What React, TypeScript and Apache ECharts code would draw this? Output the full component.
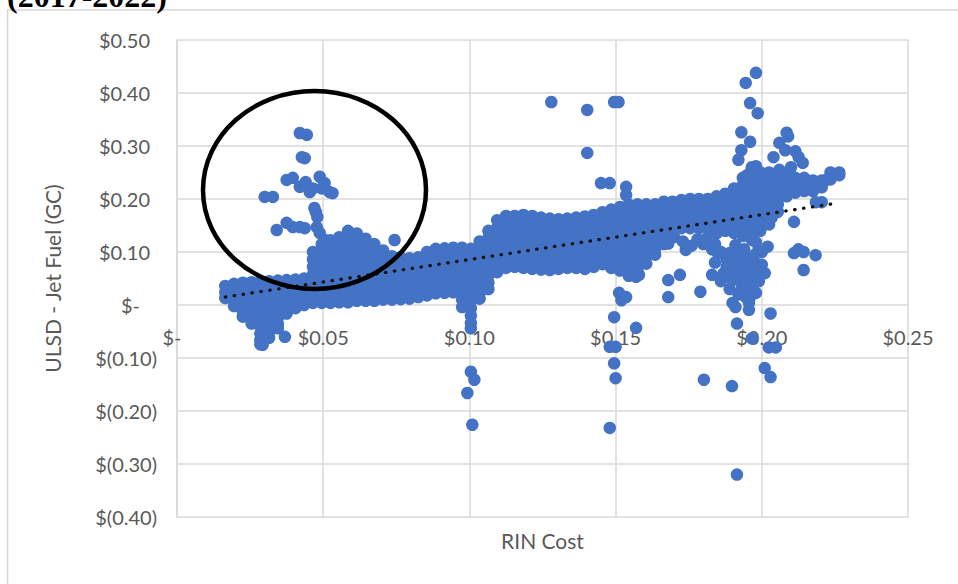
import React, { useEffect, useRef } from 'react';
import * as echarts from 'echarts';

// Main band of observations, read column by column: [RIN cost, [spread values]]
const bandColumns: [number, number[]][] = [
  [0.0165, [0.036, 0.024, 0.013]],
  [0.0195, [0.040, 0.026, 0.012, -0.002]],
  [0.0225, [0.042, 0.028, 0.014, 0.000, -0.012, -0.022]],
  [0.0255, [0.043, 0.029, 0.015, 0.001, -0.012, -0.024, -0.035]],
  [0.0285, [0.044, 0.030, 0.016, 0.002, -0.012, -0.026, -0.040, -0.054, -0.066, -0.074]],
  [0.0315, [0.045, 0.031, 0.017, 0.003, -0.011, -0.025, -0.039, -0.051, -0.062]],
  [0.0345, [0.046, 0.032, 0.018, 0.004, -0.010, -0.024, -0.036, -0.044]],
  [0.0375, [0.047, 0.033, 0.019, 0.005, -0.008, -0.016]],
  [0.0405, [0.048, 0.034, 0.020, 0.006, -0.006]],
  [0.0435, [0.050, 0.036, 0.022, 0.008, 0.000]],
  [0.0465, [0.100, 0.086, 0.072, 0.058, 0.044, 0.030, 0.016, 0.004]],
  [0.0495, [0.115, 0.101, 0.087, 0.073, 0.059, 0.045, 0.031, 0.017, 0.004]],
  [0.0525, [0.122, 0.108, 0.094, 0.080, 0.066, 0.052, 0.038, 0.024, 0.010, 0.004]],
  [0.0555, [0.128, 0.114, 0.100, 0.086, 0.072, 0.058, 0.044, 0.030, 0.016, 0.005]],
  [0.0585, [0.140, 0.126, 0.112, 0.098, 0.084, 0.070, 0.056, 0.042, 0.028, 0.014, 0.005]],
  [0.0615, [0.135, 0.121, 0.107, 0.093, 0.079, 0.065, 0.051, 0.037, 0.023, 0.008]],
  [0.0645, [0.125, 0.111, 0.097, 0.083, 0.069, 0.055, 0.041, 0.027, 0.013, 0.008]],
  [0.0675, [0.115, 0.101, 0.087, 0.073, 0.059, 0.045, 0.031, 0.017, 0.008]],
  [0.0705, [0.103, 0.089, 0.075, 0.061, 0.047, 0.033, 0.019, 0.010]],
  [0.0735, [0.092, 0.078, 0.064, 0.050, 0.036, 0.022, 0.010]],
  [0.0765, [0.090, 0.076, 0.062, 0.048, 0.034, 0.020, 0.011]],
  [0.0795, [0.088, 0.074, 0.060, 0.046, 0.032, 0.018, 0.012]],
  [0.0825, [0.090, 0.076, 0.062, 0.048, 0.034, 0.020, 0.015]],
  [0.0855, [0.100, 0.086, 0.072, 0.058, 0.044, 0.030, 0.018]],
  [0.0885, [0.106, 0.092, 0.078, 0.064, 0.050, 0.036, 0.022]],
  [0.0915, [0.107, 0.093, 0.079, 0.065, 0.051, 0.037, 0.023]],
  [0.0945, [0.108, 0.094, 0.080, 0.066, 0.052, 0.038, 0.024]],
  [0.0975, [0.108, 0.094, 0.080, 0.066, 0.052, 0.038, 0.024, 0.010, -0.004]],
  [0.1005, [0.106, 0.092, 0.078, 0.064, 0.050, 0.036, 0.022, 0.008, -0.006, -0.020, -0.034, -0.044]],
  [0.1035, [0.120, 0.106, 0.092, 0.078, 0.064, 0.050, 0.036, 0.022, 0.012]],
  [0.1065, [0.140, 0.126, 0.112, 0.098, 0.084, 0.070, 0.056, 0.042, 0.030]],
  [0.1095, [0.160, 0.146, 0.132, 0.118, 0.104, 0.090, 0.076, 0.062]],
  [0.1125, [0.168, 0.154, 0.140, 0.126, 0.112, 0.098, 0.084, 0.070]],
  [0.1155, [0.168, 0.154, 0.140, 0.126, 0.112, 0.098, 0.084, 0.072]],
  [0.1185, [0.170, 0.156, 0.142, 0.128, 0.114, 0.100, 0.086, 0.070]],
  [0.1215, [0.168, 0.154, 0.140, 0.126, 0.112, 0.098, 0.084, 0.068]],
  [0.1245, [0.165, 0.151, 0.137, 0.123, 0.109, 0.095, 0.081, 0.067]],
  [0.1275, [0.163, 0.149, 0.135, 0.121, 0.107, 0.093, 0.079, 0.066]],
  [0.1305, [0.162, 0.148, 0.134, 0.120, 0.106, 0.092, 0.078, 0.068]],
  [0.1335, [0.163, 0.149, 0.135, 0.121, 0.107, 0.093, 0.079, 0.070]],
  [0.1365, [0.165, 0.151, 0.137, 0.123, 0.109, 0.095, 0.081, 0.070]],
  [0.1395, [0.167, 0.153, 0.139, 0.125, 0.111, 0.097, 0.083, 0.068]],
  [0.1425, [0.170, 0.156, 0.142, 0.128, 0.114, 0.100, 0.086, 0.072]],
  [0.1455, [0.175, 0.161, 0.147, 0.133, 0.119, 0.105, 0.091, 0.077]],
  [0.1485, [0.180, 0.166, 0.152, 0.138, 0.124, 0.110, 0.096, 0.082, 0.070]],
  [0.1515, [0.185, 0.171, 0.157, 0.143, 0.129, 0.115, 0.101, 0.087, 0.073, 0.065]],
  [0.1545, [0.190, 0.176, 0.162, 0.148, 0.134, 0.120, 0.106, 0.092, 0.078, 0.064, 0.055]],
  [0.1575, [0.190, 0.176, 0.162, 0.148, 0.134, 0.120, 0.106, 0.092, 0.078, 0.064]],
  [0.1605, [0.190, 0.176, 0.162, 0.148, 0.134, 0.120, 0.106, 0.092, 0.078]],
  [0.1635, [0.190, 0.176, 0.162, 0.148, 0.134, 0.120, 0.106, 0.095]],
  [0.1665, [0.195, 0.181, 0.167, 0.153, 0.139, 0.125, 0.115]],
  [0.1695, [0.195, 0.181, 0.167, 0.153, 0.140]],
  [0.1725, [0.198, 0.184, 0.170, 0.156, 0.145]],
  [0.1755, [0.200, 0.186, 0.172, 0.158, 0.145]],
  [0.1785, [0.200, 0.186, 0.172, 0.158, 0.145]],
  [0.1815, [0.200, 0.186, 0.172, 0.158, 0.144]],
  [0.1845, [0.205, 0.191, 0.177, 0.163, 0.149, 0.135]],
  [0.1875, [0.210, 0.196, 0.182, 0.168, 0.154, 0.140]],
  [0.1905, [0.220, 0.206, 0.192, 0.178, 0.164, 0.150, 0.136]],
  [0.1935, [0.240, 0.226, 0.212, 0.198, 0.184, 0.170, 0.156, 0.142, 0.130]],
  [0.1965, [0.255, 0.241, 0.227, 0.213, 0.199, 0.185, 0.171, 0.157, 0.143, 0.130]],
  [0.1995, [0.250, 0.236, 0.222, 0.208, 0.194, 0.180, 0.166, 0.152, 0.140]],
  [0.2025, [0.250, 0.236, 0.222, 0.208, 0.194, 0.180, 0.166, 0.152]],
  [0.2055, [0.245, 0.231, 0.217, 0.203, 0.190, 0.176]],
  [0.2085, [0.245, 0.231, 0.217, 0.205]],
  [0.2115, [0.240, 0.226, 0.212]],
  [0.2145, [0.240, 0.227, 0.215]],
  [0.2175, [0.235, 0.225, 0.215]],
  [0.2205, [0.235, 0.222]],
  [0.2235, [0.250, 0.237]],
  [0.2265, [0.250, 0.245]],
];

// Points inside the circled area (spikes at low RIN cost)
const circledPoints: [number, number][] = [
  [0.042, 0.3245], [0.0444, 0.321], [0.0427, 0.279], [0.0437, 0.277],
  [0.030, 0.204], [0.0328, 0.204], [0.0375, 0.236], [0.0396, 0.240],
  [0.042, 0.223], [0.044, 0.232], [0.0454, 0.213], [0.0465, 0.220],
  [0.0488, 0.242], [0.0495, 0.220], [0.0505, 0.230], [0.0522, 0.213], [0.0532, 0.211],
  [0.047, 0.183], [0.0475, 0.175], [0.048, 0.166], [0.0478, 0.147], [0.0488, 0.136],
  [0.0505, 0.123], [0.0515, 0.109],
  [0.0341, 0.1415], [0.0375, 0.155], [0.0396, 0.147], [0.042, 0.147], [0.0437, 0.145],
  [0.0744, 0.1226],
];

// Low RIN cost outliers below the band
const lowTailPoints: [number, number][] = [
  [0.0369, -0.060], [0.0293, -0.075],
  [0.1005, -0.126], [0.1017, -0.141], [0.0993, -0.166], [0.101, -0.226],
];

// Outliers around $0.13 - $0.18
const midOutliers: [number, number][] = [
  [0.128, 0.383], [0.1403, 0.368], [0.1495, 0.383], [0.151, 0.383], [0.1403, 0.287],
  [0.145, 0.230], [0.148, 0.230], [0.1536, 0.223], [0.1536, 0.2075],
  [0.1512, 0.023], [0.1536, 0.015], [0.152, 0.009], [0.157, 0.053], [0.158, 0.057],
  [0.1495, -0.023], [0.157, -0.043], [0.148, -0.079], [0.150, -0.079],
  [0.1495, -0.110], [0.150, -0.138], [0.148, -0.232],
  [0.168, 0.047], [0.172, 0.057], [0.168, 0.015], [0.179, 0.025], [0.183, 0.057],
];

// Clusters just below the band around $0.17 - $0.20
const clusterPoints: [number, number][] = [
  [0.170, 0.128], [0.173, 0.120], [0.176, 0.112], [0.174, 0.104], [0.178, 0.124], [0.168, 0.116],
  [0.180, 0.115], [0.183, 0.105], [0.185, 0.098], [0.181, 0.125],
  [0.184, 0.115], [0.186, 0.100], [0.188, 0.086], [0.190, 0.074], [0.187, 0.060], [0.190, 0.047],
  [0.193, 0.042], [0.196, 0.034], [0.198, 0.023], [0.1945, 0.015], [0.190, 0.004], [0.1956, 0.004],
  [0.199, 0.072], [0.200, 0.076], [0.1966, 0.123], [0.198, 0.118], [0.192, 0.100], [0.195, 0.090],
  [0.197, 0.060], [0.193, 0.065], [0.189, 0.030], [0.192, 0.020], [0.196, 0.050], [0.199, 0.045],
  [0.200, 0.100], [0.202, 0.110], [0.186, 0.045], [0.184, 0.080], [0.191, 0.113], [0.194, 0.105],
  [0.189, 0.098], [0.197, 0.085], [0.195, 0.075], [0.192, 0.085], [0.188, 0.072], [0.194, 0.055],
  [0.191, 0.060], [0.201, 0.060], [0.198, 0.097], [0.193, 0.028], [0.196, 0.015],
  [0.191, -0.004], [0.1956, -0.009], [0.203, -0.016], [0.1915, -0.035], [0.1966, -0.063],
  [0.2024, -0.080], [0.2048, -0.080], [0.201, -0.119], [0.203, -0.136], [0.1802, -0.141],
  [0.1898, -0.153], [0.1915, -0.320],
];

// High RIN cost spikes and the right-hand tail
const highPoints: [number, number][] = [
  [0.198, 0.438], [0.1945, 0.419], [0.196, 0.381], [0.1986, 0.362], [0.193, 0.326],
  [0.196, 0.308], [0.193, 0.292], [0.192, 0.274], [0.1966, 0.260], [0.198, 0.262],
  [0.195, 0.245], [0.199, 0.240],
  [0.2085, 0.325], [0.209, 0.318], [0.206, 0.306], [0.208, 0.292], [0.204, 0.279],
  [0.2126, 0.279], [0.210, 0.260], [0.206, 0.255], [0.2095, 0.250], [0.214, 0.268], [0.2115, 0.290],
  [0.211, 0.157], [0.2034, 0.165], [0.211, 0.098], [0.2143, 0.100], [0.2184, 0.094],
  [0.2143, 0.066], [0.2125, 0.105], [0.2185, 0.194], [0.2205, 0.194], [0.222, 0.236],
];

// Linear trendline end points
const trendX = [0.0165, 0.2255];
const trendY = [0.015, 0.192];

const xTickLabels = ['$-', '$0.05', '$0.10', '$0.15', '$0.20', '$0.25'];
const yTickLabels = ['$(0.40)', '$(0.30)', '$(0.20)', '$(0.10)', '$-', '$0.10', '$0.20', '$0.30', '$0.40', '$0.50'];

const FONT = 'Lato';
const GREY = '#595959';
const FS = 20;

export default function App() {
  const ref = useRef<HTMLDivElement>(null);

  useEffect(() => {
    document.body.style.margin = '0';
    const chart = echarts.init(ref.current!, null, { renderer: 'svg' });

    const points: [number, number][] = [];
    bandColumns.forEach(([x, ys]) => ys.forEach((y) => points.push([x, y])));
    [circledPoints, lowTailPoints, midOutliers, clusterPoints, highPoints].forEach((arr) =>
      arr.forEach((p) => points.push(p))
    );
    const trend = trendX.map((x, i) => [x, trendY[i]]);

    const labelBase = { fontFamily: FONT, fontSize: FS, color: GREY };

    chart.setOption({
      animation: false,
      backgroundColor: '#ffffff',
      grid: { left: 177, right: 50, top: 40, bottom: 67, containLabel: false, outerBoundsMode: 'none' },
      xAxis: {
        type: 'value',
        min: 0,
        max: 0.25,
        interval: 0.05,
        position: 'bottom',
        axisLine: { show: false, onZero: false },
        axisTick: { show: false },
        splitLine: { show: true, lineStyle: { color: '#d9d9d9', width: 1.5 } },
        axisLabel: {
          // labels sit just under the $- gridline, as in the source chart
          margin: -190,
          ...labelBase,
          formatter: (v: number) => {
            const i = Math.round(v / 0.05);
            return i === 0 ? '{z|' + xTickLabels[i] + '}' : '{p|' + xTickLabels[i] + '}';
          },
          rich: {
            z: { ...labelBase, padding: [0, 10, 0, 0] },
            p: { ...labelBase },
          },
        },
        name: 'RIN Cost',
        nameLocation: 'middle',
        nameGap: 13,
        nameTextStyle: { ...labelBase, fontSize: 21, verticalAlign: 'top' },
      },
      yAxis: {
        type: 'value',
        min: -0.4,
        max: 0.5,
        interval: 0.1,
        axisLine: { show: true, onZero: false, lineStyle: { color: '#d9d9d9', width: 1.5 } },
        axisTick: { show: false },
        splitLine: { show: true, lineStyle: { color: '#d9d9d9', width: 1.5 } },
        axisLabel: {
          margin: 20,
          ...labelBase,
          formatter: (v: number) => {
            const i = Math.round((v + 0.4) / 0.1);
            const t = yTickLabels[i];
            if (i === 4) return '{z|' + t + '}';
            if (i > 4) return '{p|' + t + '}';
            return '{n|' + t + '}';
          },
          rich: {
            z: { ...labelBase, padding: [0, 17, 0, 0] },
            p: { ...labelBase, padding: [0, 7, 0, 0] },
            n: { ...labelBase },
          },
        },
        name: 'ULSD - Jet Fuel (GC)',
        nameLocation: 'middle',
        nameRotate: 90,
        nameGap: 114,
        nameTextStyle: { ...labelBase, fontSize: 21 },
      },
      series: [
        {
          type: 'scatter',
          data: points,
          symbolSize: 12.5,
          itemStyle: { color: '#4472C4', opacity: 1 },
          z: 2,
        },
        {
          type: 'line',
          data: trend,
          symbol: 'none',
          lineStyle: { color: '#111111', width: 3.2, type: [0.5, 8.5], cap: 'round' },
          z: 3,
        },
      ],
      graphic: [
        {
          type: 'rect',
          silent: true,
          z: -10,
          shape: { x: 7.5, y: 10, width: 1000, height: 1000 },
          style: { fill: 'none', stroke: '#d6d6d6', lineWidth: 1.5 },
        },
        {
          type: 'text',
          x: 7,
          y: 12,
          style: {
            text: '(2017-2022)',
            fontFamily: '"Liberation Serif", serif',
            fontWeight: 'bold',
            fontSize: 32,
            fill: '#000000',
            verticalAlign: 'bottom',
          },
        },
        {
          type: 'ellipse',
          silent: true,
          z: 100,
          shape: { cx: 314.5, cy: 190, rx: 111.5, ry: 99 },
          style: { fill: 'none', stroke: '#000000', lineWidth: 4.5 },
        },
      ],
    });

    return () => chart.dispose();
  }, []);

  return <div ref={ref} style={{ width: 958, height: 584 }} />;
}
